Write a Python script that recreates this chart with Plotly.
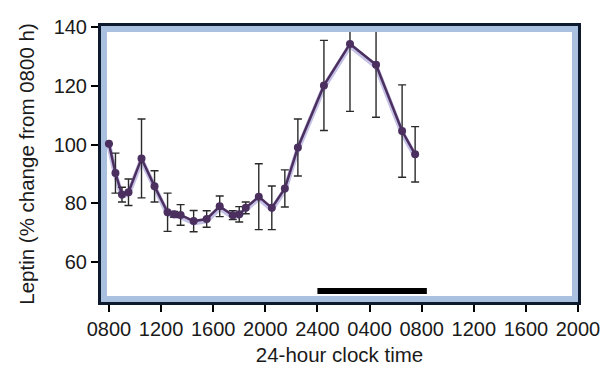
import plotly.graph_objects as go

# ---- data ----
hours = [8.0, 8.5, 9.0, 9.5, 10.5, 11.5, 12.5, 13.0, 13.5, 14.5, 15.5, 16.5,
         17.5, 18.0, 18.5, 19.5, 20.5, 21.5, 22.5, 24.5, 26.5, 28.5, 30.5, 31.5]
leptin = [100.3, 90.3, 83.0, 83.8, 95.3, 85.8, 77.0, 76.3, 76.1, 74.0, 74.7, 79.0,
          76.0, 76.3, 78.5, 82.3, 78.5, 85.1, 99.0, 120.1, 134.2, 127.1, 104.6, 96.7]
sem = [0.0, 6.8, 2.5, 4.5, 13.4, 5.3, 6.5, 1.0, 3.5, 3.6, 2.8, 3.5,
       1.5, 2.6, 2.0, 11.2, 7.4, 6.3, 9.7, 15.3, 22.9, 17.8, 15.7, 9.4]
tick_vals = [8, 12, 16, 20, 24, 28, 32, 36, 40, 44]
tick_text = ["0800", "1200", "1600", "2000", "2400", "0400", "0800", "1200", "1600", "2000"]
y_ticks = [60, 80, 100, 120, 140]
sleep_start, sleep_end = 24.0, 32.4
sleep_bar_y = (49.2, 51.3)

FONT = "Liberation Sans, Arial, sans-serif"
PURPLE = "#4a2f5f"
BAND = "#a9c1de"
FRAME = "#0d1a2e"

fig = go.Figure()
# soft lavender shadow under the line
fig.add_trace(go.Scatter(x=hours, y=[v - 0.6 for v in leptin], mode="lines",
                         line=dict(color="rgba(150,140,210,0.55)", width=5),
                         hoverinfo="skip", showlegend=False))
fig.add_trace(go.Scatter(
    x=hours, y=leptin, mode="lines+markers",
    line=dict(color=PURPLE, width=2.5),
    marker=dict(color=PURPLE, size=8),
    error_y=dict(type="data", array=sem, visible=True, color="#2a2a2a",
                 thickness=1.4, width=4),
    showlegend=False))

W, H = 477, 276  # plot area in px
bw = 6
shapes = [
    dict(type="rect", xref="paper", yref="paper", x0=0, x1=bw / W, y0=0, y1=1,
         fillcolor=BAND, line_width=0, layer="below"),
    dict(type="rect", xref="paper", yref="paper", x0=1 - bw / W, x1=1, y0=0, y1=1,
         fillcolor=BAND, line_width=0, layer="below"),
    dict(type="rect", xref="paper", yref="paper", x0=0, x1=1, y0=0, y1=bw / H,
         fillcolor=BAND, line_width=0, layer="below"),
    dict(type="rect", xref="paper", yref="paper", x0=0, x1=1, y0=1 - bw / H, y1=1,
         fillcolor=BAND, line_width=0, layer="above"),
    # sleep period bar
    dict(type="rect", xref="x", yref="y", x0=sleep_start, x1=sleep_end,
         y0=sleep_bar_y[0], y1=sleep_bar_y[1], fillcolor="black", line_width=0,
         layer="above"),
]

fig.update_layout(
    width=600, height=360,
    margin=dict(l=93, r=30, t=18, b=66, autoexpand=False),
    paper_bgcolor="white", plot_bgcolor="white",
    font=dict(family=FONT, size=20, color="#1a1a1a"),
    shapes=shapes,
    xaxis=dict(range=[7.39, 44], tickvals=tick_vals, ticktext=tick_text,
               showgrid=False, zeroline=False, automargin=False,
               showline=True, linecolor=FRAME, linewidth=3, mirror=True,
               ticks="outside", ticklen=7, tickwidth=1.5, tickcolor="black",
               tickfont=dict(size=20),
               title=dict(text="24-hour clock time", font=dict(size=20.5), standoff=9)),
    yaxis=dict(range=[46.5, 140.3], tickvals=y_ticks,
               showgrid=False, zeroline=False, automargin=False,
               showline=True, linecolor=FRAME, linewidth=3, mirror=True,
               ticks="outside", ticklen=7, tickwidth=1.5, tickcolor="black",
               tickfont=dict(size=20),
               title=dict(text="Leptin (% change from 0800 h)", font=dict(size=20.5),
                          standoff=14)),
)

fig.write_html("out.html")
